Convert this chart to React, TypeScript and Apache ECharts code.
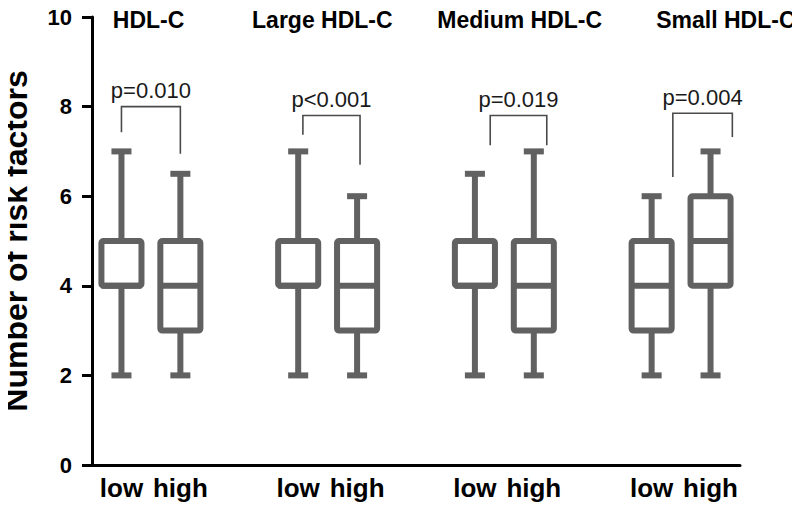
import React, { useEffect, useRef } from "react";
import * as echarts from "echarts";

const categories = ["low", "high", "", "low", "high", "", "low", "high", "", "low", "high"];
const yTicks = [0, 2, 4, 6, 8, 10];

// box plots (one per low/high column)
const boxCategoryIndex = [0, 1, 3, 4, 6, 7, 9, 10];
const boxMin = [2, 2, 2, 2, 2, 2, 2, 2];
const boxQ1 = [4, 3, 4, 3, 4, 3, 3, 4];
const boxMedian = [4, 4, 4, 4, 4, 4, 4, 5];
const boxQ3 = [5, 5, 5, 5, 5, 5, 5, 6];
const boxMax = [7, 6.5, 7, 6, 6.5, 7, 6, 7];

// group annotations
const groupTitles = ["HDL-C", "Large HDL-C", "Medium HDL-C", "Small HDL-C"];
const titlePos = [0.46, 3.41, 6.76, 10.26];
const pLabels = ["p=0.010", "p<0.001", "p=0.019", "p=0.004"];
const bracketLeft = [0.0, 3.08, 6.26, 9.36];
const bracketRight = [1.0, 4.05, 7.22, 10.37];
const bracketTop = [8.0, 7.8, 7.8, 7.85];
const bracketLeftEnd = [7.43, 7.37, 7.14, 6.43];
const bracketRightEnd = [6.95, 6.7, 7.14, 7.32];

const FONT = "'Liberation Sans', Arial, Helvetica, sans-serif";
const BOX_COLOR = "#616161";

export default function App() {
  const ref = useRef<HTMLDivElement>(null);

  useEffect(() => {
    if (!ref.current) return;
    const chart = echarts.init(ref.current, undefined, { renderer: "svg" });

    const boxData = boxCategoryIndex.map((c, i) => [c, boxMin[i], boxQ1[i], boxMedian[i], boxQ3[i], boxMax[i]]);
    const groupData = groupTitles.map((_, i) => [i * 3, bracketTop[i]]);

    const xAt = (api: any, pos: number) => {
      const f = Math.floor(pos);
      const band = api.size([1, 0])[0];
      return api.coord([f, 0])[0] + (pos - f) * band;
    };

    chart.setOption({
      animation: false,
      grid: { left: 92, right: 60, top: 17, bottom: 49, containLabel: false, outerBoundsMode: "none" },
      xAxis: {
        type: "category",
        data: categories,
        axisLine: { lineStyle: { color: "#000", width: 3 } },
        axisTick: { alignWithLabel: true, interval: 0, length: 10, lineStyle: { color: "#000", width: 3 } },
        axisLabel: {
          interval: 0,
          color: "#000",
          fontFamily: FONT,
          fontWeight: "bold",
          fontSize: 26,
          margin: 10,
        },
        splitLine: { show: false },
      },
      yAxis: {
        type: "value",
        min: yTicks[0],
        max: yTicks[yTicks.length - 1],
        interval: 2,
        name: "Number of risk factors",
        nameLocation: "middle",
        nameRotate: 90,
        nameGap: 62,
        nameTextStyle: { color: "#000", fontFamily: FONT, fontWeight: "bold", fontSize: 32, lineHeight: 28 },
        axisLine: { show: true, lineStyle: { color: "#000", width: 3 } },
        axisTick: { show: true, length: 10, lineStyle: { color: "#000", width: 3 } },
        axisLabel: { color: "#000", fontFamily: FONT, fontWeight: "bold", fontSize: 22, margin: 20 },
        splitLine: { show: false },
      },
      series: [
        {
          type: "custom",
          data: boxData,
          encode: { x: 0, y: [1, 2, 3, 4, 5] },
          renderItem: (params: any, api: any) => {
            const c = api.value(0);
            const x = api.coord([c, 0])[0];
            const y = (v: number) => api.coord([c, v])[1];
            const band = api.size([1, 0])[0];
            const boxW = band * 0.68;
            const capW = band * 0.34;
            const yMin = y(api.value(1));
            const yQ1 = y(api.value(2));
            const yMed = y(api.value(3));
            const yQ3 = y(api.value(4));
            const yMax = y(api.value(5));
            const ls = { stroke: BOX_COLOR, lineWidth: 6, fill: null };
            return {
              type: "group",
              children: [
                { type: "line", shape: { x1: x, y1: yMin, x2: x, y2: yQ1 }, style: ls },
                { type: "line", shape: { x1: x, y1: yQ3, x2: x, y2: yMax }, style: ls },
                { type: "line", shape: { x1: x - capW / 2, y1: yMin, x2: x + capW / 2, y2: yMin }, style: ls },
                { type: "line", shape: { x1: x - capW / 2, y1: yMax, x2: x + capW / 2, y2: yMax }, style: ls },
                {
                  type: "rect",
                  shape: { x: x - boxW / 2, y: yQ3, width: boxW, height: yQ1 - yQ3, r: 2 },
                  style: { stroke: BOX_COLOR, lineWidth: 6, fill: "#fff", lineJoin: "round" },
                },
                { type: "line", shape: { x1: x - boxW / 2, y1: yMed, x2: x + boxW / 2, y2: yMed }, style: ls },
              ],
            };
          },
          z: 2,
        },
        {
          type: "custom",
          data: groupData,
          encode: { x: 0, y: 1 },
          clip: false,
          renderItem: (params: any, api: any) => {
            const i = params.dataIndex;
            const xl = xAt(api, bracketLeft[i]);
            const xr = xAt(api, bracketRight[i]);
            const yT = api.coord([0, bracketTop[i]])[1];
            const yL = api.coord([0, bracketLeftEnd[i]])[1];
            const yR = api.coord([0, bracketRightEnd[i]])[1];
            const yTitle = api.coord([0, 10])[1] + 3;
            const ls = { stroke: "#4a4a4a", lineWidth: 1.6, fill: null };
            return {
              type: "group",
              children: [
                {
                  type: "polyline",
                  shape: { points: [[xl, yL], [xl, yT], [xr, yT], [xr, yR]] },
                  style: ls,
                },
                {
                  type: "text",
                  x: (xl + xr) / 2,
                  y: yT - 16,
                  style: {
                    text: pLabels[i],
                    fill: "#1a1a1a",
                    fontFamily: FONT,
                    fontSize: 22,
                    align: "center",
                    verticalAlign: "middle",
                  },
                },
                {
                  type: "text",
                  x: xAt(api, titlePos[i]),
                  y: yTitle,
                  style: {
                    text: groupTitles[i],
                    fill: "#000",
                    fontFamily: FONT,
                    fontWeight: "bold",
                    fontSize: 23,
                    align: "center",
                    verticalAlign: "middle",
                  },
                },
              ],
            };
          },
          z: 3,
        },
      ],
    });

    return () => chart.dispose();
  }, []);

  return <div ref={ref} style={{ width: 800, height: 514, margin: -8 }} />;
}
